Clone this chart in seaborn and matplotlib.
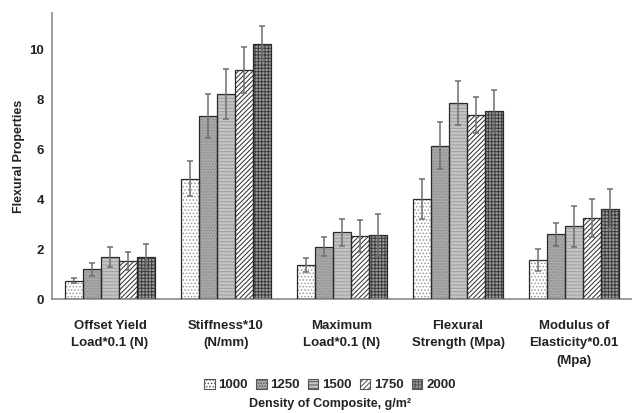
import matplotlib
matplotlib.use("Agg")
import matplotlib.pyplot as plt
from matplotlib.patches import Patch
import numpy as np
import pandas as pd
import seaborn as sns

sns.set_style("white")
plt.rcParams['font.family'] = ['Liberation Sans', 'DejaVu Sans']
plt.rcParams['hatch.linewidth'] = 0.7

categories = [
    'Offset Yield\nLoad*0.1 (N)',
    'Stiffness*10\n(N/mm)',
    'Maximum\nLoad*0.1 (N)',
    'Flexural\nStrength (Mpa)',
    'Modulus of\nElasticity*0.01\n(Mpa)',
]
densities = ['1000', '1250', '1500', '1750', '2000']

# mean values per density, one list per density (order follows categories)
vals_1000 = [0.73, 4.82, 1.36, 3.99, 1.56]
vals_1250 = [1.19, 7.33, 2.09, 6.13, 2.59]
vals_1500 = [1.69, 8.20, 2.67, 7.85, 2.91]
vals_1750 = [1.53, 9.15, 2.52, 7.36, 3.25]
vals_2000 = [1.69, 10.22, 2.57, 7.53, 3.61]

# error bar half-widths
err_1000 = [0.10, 0.70, 0.29, 0.80, 0.43]
err_1250 = [0.26, 0.88, 0.38, 0.94, 0.46]
err_1500 = [0.40, 1.00, 0.53, 0.87, 0.81]
err_1750 = [0.36, 0.92, 0.64, 0.73, 0.75]
err_2000 = [0.52, 0.70, 0.84, 0.82, 0.78]

all_vals = [vals_1000, vals_1250, vals_1500, vals_1750, vals_2000]
all_errs = [err_1000, err_1250, err_1500, err_1750, err_2000]

rows = []
for d, v in zip(densities, all_vals):
    for c, y in zip(categories, v):
        rows.append({'category': c, 'density': d, 'value': y})
df = pd.DataFrame(rows)

faces = ['#ffffff', '#a8a8a8', '#c4c4c4', '#ffffff', '#999999']
hatches = ['.....', '......', '-----', '///////', '+++++']
hatch_cols = ['#9a9a9a', '#8c8c8c', '#9e9e9e', '#2a2a2a', '#3c3c3c']

fig = plt.figure(figsize=(6.32, 4.13), dpi=100)
ax = fig.add_axes([52 / 632, 1 - 299 / 413, 580 / 632, 286 / 413])

sns.barplot(
    data=df, x='category', y='value', hue='density',
    palette=faces, errorbar=None, width=0.78, gap=0,
    legend=False, ax=ax
)

bar_conts = list(ax.containers)
for i, cont in enumerate(bar_conts):
    xs = []
    for p in cont.patches:
        p.set_hatch(hatches[i])
        p.set_edgecolor(hatch_cols[i])
        p.set_linewidth(0)
        xs.append(p.get_x() + p.get_width() / 2)
        # outline drawn separately so hatch and edge can differ
        ax.add_patch(plt.Rectangle(
            (p.get_x(), 0), p.get_width(), p.get_height(),
            fill=False, edgecolor='#2a2a2a', linewidth=0.9, zorder=3
        ))
    ax.errorbar(
        xs, all_vals[i], yerr=all_errs[i], fmt='none',
        ecolor='#6e6e6e', elinewidth=1.1, capsize=2.5, capthick=1.1, zorder=4
    )

ax.set_xlim(-0.5, -0.5 + 580 / 117)
ax.set_ylim(0, 11.45)
ax.set_yticks([0, 2, 4, 6, 8, 10])
ax.set_xticks(range(5))
ax.set_xticklabels(categories, fontsize=9.5, fontweight='bold', color='#222222',
                   linespacing=1.6)
ax.set_xticks(np.arange(-0.5, 5, 1), minor=True)
ax.tick_params(axis='x', which='major', length=0, pad=15)
ax.tick_params(axis='x', which='minor', length=3, color='#888888', direction='out')
ax.tick_params(axis='y', length=4, color='#888888', direction='inout', labelsize=9.5)
for lab in ax.get_yticklabels():
    lab.set_fontweight('bold')
    lab.set_color('#222222')
ax.set_xlabel('')
ax.set_ylabel('Flexural Properties', fontsize=9, fontweight='bold', color='#222222', labelpad=3)

for s in ['top', 'right']:
    ax.spines[s].set_visible(False)
for s in ['left', 'bottom']:
    ax.spines[s].set_color('#8a8a8a')
    ax.spines[s].set_linewidth(1.2)

handles = [
    Patch(facecolor=faces[i], edgecolor='#555555', hatch=hatches[i], linewidth=0.8)
    for i in range(5)
]
fig.legend(
    handles, densities, loc='center', bbox_to_anchor=(330 / 632, 1 - 385 / 413),
    ncol=5, frameon=False, handlelength=0.8, handleheight=0.8,
    handletextpad=0.3, columnspacing=0.6,
    prop={'weight': 'bold', 'size': 9.5}
)
fig.text(330 / 632, 1 - 404 / 413, 'Density of Composite, g/m²',
         ha='center', va='center', fontsize=9, fontweight='bold', color='#222222')

fig.savefig('out.png', dpi=100)
